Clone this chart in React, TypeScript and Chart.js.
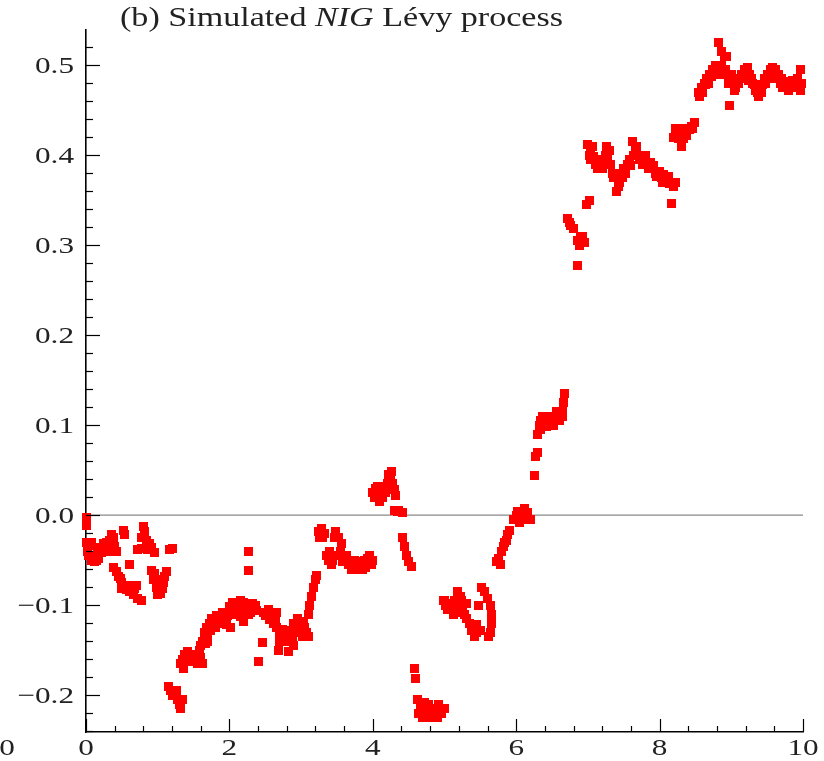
import { useEffect, useRef } from "react";
import { Chart, registerables } from "chart.js";

Chart.register(...registerables);

// ---- text ----
const titleBefore = "(b) Simulated ";
const titleItalic = "NIG";
const titleAfter = " Lévy process";
const strayLabel = "0";

// ---- axes ----
const xRange = [0, 10];
const yRange = [-0.241, 0.539];
const xMajorTicks = [0, 2, 4, 6, 8, 10];
const xTickLabels = ["0", "2", "4", "6", "8", "10"];
const yMajorTicks = [-0.2, -0.1, 0, 0.1, 0.2, 0.3, 0.4, 0.5];
const yTickLabels = ["\u22120.2", "\u22120.1", "0.0", "0.1", "0.2", "0.3", "0.4", "0.5"];
const xMinorStep = 0.4;
const yMinorStep = 0.02;

// ---- simulated path: [t, value] ----
const segment0to1: [number, number][] = [
  [0, -0.003], [0.01, -0.012], [0.0, -0.03], [0.04, -0.034], [0.08, -0.03],
  [0.04, -0.045], [0.08, -0.05], [0.12, -0.052], [0.18, -0.048], [0.22, -0.042],
  [0.16, -0.04], [0.2, -0.036], [0.24, -0.032], [0.28, -0.03], [0.3, -0.034],
  [0.33, -0.028], [0.36, -0.022], [0.38, -0.025], [0.4, -0.035], [0.42, -0.04],
  [0.52, -0.017], [0.54, -0.022], [0.6, -0.055],
  [0.38, -0.058], [0.42, -0.063], [0.45, -0.068], [0.48, -0.07], [0.5, -0.075],
  [0.53, -0.08], [0.56, -0.083], [0.6, -0.085], [0.64, -0.083], [0.68, -0.082],
  [0.7, -0.078], [0.72, -0.093], [0.77, -0.095],
  [0.8, -0.013], [0.82, -0.018], [0.78, -0.025], [0.84, -0.028], [0.72, -0.038],
  [0.78, -0.037], [0.88, -0.032], [0.92, -0.036], [0.96, -0.042],
  [0.92, -0.062], [0.96, -0.065], [1.0, -0.072], [1.02, -0.08], [1.04, -0.087],
  [1.06, -0.082], [1.08, -0.075], [1.1, -0.068], [1.12, -0.063], [0.98, -0.08],
  [1.0, -0.088], [1.16, -0.038], [1.2, -0.037],
  [0.02, -0.04], [0.1, -0.045], [0.14, -0.05], [0.26, -0.038], [0.32, -0.04],
  [0.5, -0.082], [0.58, -0.078], [0.66, -0.088], [0.86, -0.038], [0.94, -0.072],
];

const segment1to3: [number, number][] = [
  [1.15, -0.19], [1.18, -0.195], [1.22, -0.198], [1.25, -0.2], [1.28, -0.205],
  [1.3, -0.21], [1.32, -0.215], [1.35, -0.205],
  [1.32, -0.165], [1.35, -0.16], [1.38, -0.155], [1.42, -0.152], [1.45, -0.155],
  [1.48, -0.16], [1.52, -0.158], [1.55, -0.165], [1.36, -0.17], [1.6, -0.158],
  [1.62, -0.165],
  [1.58, -0.15], [1.62, -0.14], [1.65, -0.13], [1.68, -0.125], [1.7, -0.132],
  [1.72, -0.12], [1.75, -0.115], [1.66, -0.143],
  [1.78, -0.12], [1.82, -0.112], [1.86, -0.118], [1.9, -0.108], [1.94, -0.11],
  [1.98, -0.112], [2.0, -0.102], [2.04, -0.097], [2.08, -0.098], [2.12, -0.1],
  [2.16, -0.095], [2.2, -0.097], [2.24, -0.1], [2.28, -0.105], [2.32, -0.098],
  [2.36, -0.1], [2.38, -0.106], [1.96, -0.122], [2.02, -0.125], [2.1, -0.11],
  [2.15, -0.113], [2.2, -0.118],
  [2.26, -0.04], [2.26, -0.062], [2.4, -0.163], [2.46, -0.141],
  [2.48, -0.108], [2.54, -0.105], [2.6, -0.11], [2.66, -0.108], [2.56, -0.116],
  [2.62, -0.12], [2.66, -0.125], [2.7, -0.13], [2.74, -0.127], [2.7, -0.14],
  [2.68, -0.15], [2.83, -0.152],
  [2.8, -0.135], [2.85, -0.128], [2.9, -0.12], [2.95, -0.115], [3.0, -0.12],
  [3.05, -0.125], [3.08, -0.13], [3.1, -0.135], [2.88, -0.14], [2.92, -0.13],
  [3.02, -0.135],
  [1.8, -0.125], [1.84, -0.12], [1.88, -0.115], [1.92, -0.118], [1.96, -0.108],
  [2.06, -0.105], [2.14, -0.105], [2.18, -0.102], [2.22, -0.108], [2.26, -0.11],
  [2.3, -0.108], [2.34, -0.105], [1.7, -0.14], [1.74, -0.128], [1.6, -0.145],
  [2.5, -0.112], [2.58, -0.112], [2.64, -0.115], [2.72, -0.135], [2.76, -0.14],
  [2.78, -0.13], [2.86, -0.135], [2.94, -0.125], [2.98, -0.13], [3.04, -0.118],
  [3.06, -0.132], [2.9, -0.145], [1.2, -0.2], [1.26, -0.195], [1.4, -0.16],
  [1.46, -0.163], [1.5, -0.155], [1.56, -0.158],
];

const segment3to5: [number, number][] = [
  [3.1, -0.11], [3.12, -0.1], [3.14, -0.09], [3.17, -0.08], [3.2, -0.072], [3.22, -0.067],
  [3.24, -0.018], [3.28, -0.015], [3.32, -0.02], [3.26, -0.025], [3.48, -0.018],
  [3.52, -0.025], [3.56, -0.032],
  [3.36, -0.045], [3.4, -0.04], [3.44, -0.05], [3.5, -0.045], [3.55, -0.04],
  [3.58, -0.052], [3.64, -0.045], [3.68, -0.05], [3.72, -0.055], [3.76, -0.058],
  [3.8, -0.052], [3.84, -0.055], [3.88, -0.05], [3.92, -0.048], [3.96, -0.045],
  [4.0, -0.05], [3.7, -0.06], [3.9, -0.058],
  [4.0, 0.025], [4.04, 0.03], [4.08, 0.028], [4.12, 0.032], [4.16, 0.03],
  [4.1, 0.015], [4.14, 0.02], [4.22, 0.045], [4.25, 0.04], [4.28, 0.035],
  [4.3, 0.028], [4.32, 0.022], [4.26, 0.048],
  [4.3, 0.005], [4.36, 0.005], [4.42, 0.003],
  [4.42, -0.025], [4.44, -0.035], [4.47, -0.045], [4.5, -0.052], [4.54, -0.057],
  [4.58, -0.17], [4.6, -0.182],
  [4.62, -0.205], [4.64, -0.22], [4.68, -0.215], [4.72, -0.208], [4.76, -0.22],
  [4.8, -0.225], [4.84, -0.22], [4.88, -0.218], [4.92, -0.21], [4.96, -0.22],
  [5.0, -0.215], [4.7, -0.225],
  [3.3, -0.025], [3.46, -0.025], [3.38, -0.05], [3.42, -0.055], [3.6, -0.048],
  [3.66, -0.055], [3.74, -0.05], [3.78, -0.06], [3.82, -0.058], [3.86, -0.06],
  [3.94, -0.052], [3.98, -0.055], [4.02, 0.02], [4.06, 0.032], [4.18, 0.025],
  [4.2, 0.035], [4.24, 0.03], [4.34, 0.004], [4.66, -0.21], [4.74, -0.215],
  [4.78, -0.21], [4.82, -0.215], [4.86, -0.225], [4.9, -0.225], [4.94, -0.215],
];

const segment5to7: [number, number][] = [
  [4.98, -0.095], [5.02, -0.1], [5.06, -0.098], [5.1, -0.105], [5.14, -0.095],
  [5.18, -0.085], [5.22, -0.09], [5.25, -0.1], [5.3, -0.098], [5.12, -0.11],
  [5.2, -0.108],
  [5.3, -0.115], [5.35, -0.12], [5.4, -0.125], [5.45, -0.13], [5.5, -0.128],
  [5.42, -0.135], [5.47, -0.1],
  [5.52, -0.08], [5.56, -0.085], [5.6, -0.093], [5.64, -0.1], [5.66, -0.11],
  [5.66, -0.12], [5.64, -0.13], [5.62, -0.135],
  [5.72, -0.052], [5.76, -0.048], [5.8, -0.04], [5.82, -0.035], [5.86, -0.028],
  [5.88, -0.022], [5.9, -0.017], [5.78, -0.055],
  [5.96, -0.005], [6.0, 0.0], [6.04, -0.008], [6.08, 0.002], [6.12, 0.007],
  [6.16, 0.003], [6.2, -0.005],
  [6.25, 0.044], [6.27, 0.065], [6.3, 0.07],
  [6.3, 0.09], [6.34, 0.095], [6.38, 0.1], [6.42, 0.105], [6.46, 0.1],
  [6.5, 0.105], [6.54, 0.11], [6.58, 0.108], [6.62, 0.112], [6.34, 0.105],
  [6.42, 0.098], [6.66, 0.125], [6.68, 0.135], [6.65, 0.115],
  [6.85, 0.277], [6.86, 0.305], [6.9, 0.31], [6.95, 0.303], [6.72, 0.33],
  [6.76, 0.322], [6.8, 0.318], [6.98, 0.345], [7.02, 0.35],
  [5.0, -0.095], [5.04, -0.105], [5.08, -0.102], [5.16, -0.1], [5.24, -0.095],
  [5.28, -0.11], [5.38, -0.128], [5.44, -0.122], [6.32, 0.1], [6.36, 0.11],
  [6.4, 0.1], [6.44, 0.11], [6.48, 0.105], [6.52, 0.1], [6.56, 0.115],
  [6.6, 0.105], [6.64, 0.11], [6.02, 0.004], [6.06, -0.003], [6.1, 0.0],
  [6.14, -0.005], [5.84, -0.03], [6.74, 0.325], [6.88, 0.3], [6.92, 0.31],
];

const segment7to10: [number, number][] = [
  [7.0, 0.412], [7.04, 0.405], [7.08, 0.398], [7.12, 0.395], [7.16, 0.39],
  [7.2, 0.385], [7.04, 0.395], [7.26, 0.41], [7.3, 0.405], [7.28, 0.395],
  [7.34, 0.38], [7.4, 0.36], [7.42, 0.365], [7.46, 0.38], [7.5, 0.385],
  [7.55, 0.39], [7.6, 0.388], [7.62, 0.415], [7.66, 0.405],
  [7.7, 0.4], [7.74, 0.398], [7.78, 0.396], [7.82, 0.392], [7.86, 0.388],
  [7.9, 0.385], [7.94, 0.38], [7.98, 0.38], [8.02, 0.375], [8.06, 0.378],
  [8.1, 0.372], [8.14, 0.368], [8.18, 0.37], [8.22, 0.37], [8.16, 0.346],
  [8.2, 0.42], [8.24, 0.425], [8.28, 0.43], [8.32, 0.425], [8.36, 0.428],
  [8.4, 0.43], [8.44, 0.432], [8.48, 0.436], [8.3, 0.41], [8.34, 0.418],
  [8.54, 0.47], [8.58, 0.475], [8.62, 0.48], [8.66, 0.485], [8.7, 0.49],
  [8.56, 0.465], [8.74, 0.495], [8.8, 0.497], [8.86, 0.5], [8.92, 0.495],
  [8.82, 0.525], [8.86, 0.515], [8.9, 0.51], [8.94, 0.51], [8.98, 0.455],
  [8.98, 0.485], [9.02, 0.48], [9.06, 0.475], [9.1, 0.48], [9.14, 0.49],
  [9.18, 0.495], [9.22, 0.497], [9.26, 0.49], [9.3, 0.48], [9.34, 0.472],
  [9.38, 0.465], [9.42, 0.47], [9.46, 0.485], [9.5, 0.49], [9.54, 0.495],
  [9.58, 0.497], [9.62, 0.495], [9.66, 0.49], [9.7, 0.485], [9.74, 0.482],
  [9.78, 0.48], [9.82, 0.478], [9.86, 0.483], [9.9, 0.48], [9.94, 0.478],
  [9.98, 0.48], [9.97, 0.495],
  [7.02, 0.4], [7.06, 0.41], [7.1, 0.39], [7.14, 0.385], [7.18, 0.395],
  [7.22, 0.39], [7.24, 0.4], [7.32, 0.39], [7.36, 0.375], [7.44, 0.37],
  [7.48, 0.375], [7.52, 0.38], [7.58, 0.395], [7.64, 0.4], [7.68, 0.41],
  [7.72, 0.395], [7.76, 0.39], [7.8, 0.4], [7.84, 0.385], [7.88, 0.392],
  [7.92, 0.388], [7.96, 0.376], [8.0, 0.382], [8.04, 0.37], [8.08, 0.37],
  [8.12, 0.376], [8.2, 0.365], [8.22, 0.43], [8.26, 0.418], [8.38, 0.422],
  [8.42, 0.428], [8.46, 0.43], [8.6, 0.47], [8.64, 0.478], [8.68, 0.48],
  [8.72, 0.487], [8.76, 0.49], [8.78, 0.5], [8.84, 0.492], [8.88, 0.49],
  [8.96, 0.48], [9.0, 0.49], [9.04, 0.472], [9.08, 0.485], [9.12, 0.485],
  [9.16, 0.485], [9.2, 0.488], [9.24, 0.483], [9.28, 0.485], [9.32, 0.478],
  [9.36, 0.47], [9.4, 0.475], [9.44, 0.478], [9.48, 0.48], [9.52, 0.485],
  [9.56, 0.488], [9.6, 0.49], [9.64, 0.485], [9.68, 0.48], [9.72, 0.475],
  [9.76, 0.475], [9.8, 0.472], [9.84, 0.475], [9.88, 0.475], [9.92, 0.485],
  [9.96, 0.472],
];

const zeroLine: [number, number][] = [[0, 0], [10, 0]];

const SERIF = '"Liberation Serif", "Times New Roman", serif';
const TEXT_COLOR = "#222";
const H_STRETCH = 1.3;

function makeMarker(): HTMLCanvasElement {
  const c = document.createElement("canvas");
  c.width = 9;
  c.height = 9;
  const g = c.getContext("2d")!;
  g.fillStyle = "#ff0000";
  g.fillRect(0, 0, 9, 9);
  return c;
}

const axisDecor = {
  id: "axisDecor",
  afterDraw(chart: any) {
    const ctx = chart.ctx as CanvasRenderingContext2D;
    const xs = chart.scales.x;
    const ys = chart.scales.y;
    const area = chart.chartArea;
    ctx.save();
    ctx.strokeStyle = "#000";
    ctx.lineWidth = 1.2;
    for (let v = xRange[0]; v <= xRange[1] + 1e-9; v += xMinorStep) {
      const px = Math.round(xs.getPixelForValue(v)) + 0.5;
      const isMajor = xMajorTicks.some((m) => Math.abs(m - v) < 1e-6);
      const len = isMajor ? 13 : 6;
      ctx.beginPath();
      ctx.moveTo(px, area.bottom);
      ctx.lineTo(px, area.bottom - len);
      ctx.stroke();
    }
    for (let v = -0.24; v <= 0.52 + 1e-9; v += yMinorStep) {
      const py = Math.round(ys.getPixelForValue(v)) + 0.5;
      const isMajor = yMajorTicks.some((m) => Math.abs(m - v) < 1e-6);
      const len = isMajor ? 14 : 7;
      ctx.beginPath();
      ctx.moveTo(area.left, py);
      ctx.lineTo(area.left + len, py);
      ctx.stroke();
    }
    ctx.fillStyle = TEXT_COLOR;
    ctx.font = `24px ${SERIF}`;
    ctx.textBaseline = "alphabetic";
    yMajorTicks.forEach((v, i) => {
      const py = ys.getPixelForValue(v);
      ctx.save();
      ctx.translate(area.left - 12, py + 8);
      ctx.scale(H_STRETCH, 1);
      ctx.textAlign = "right";
      ctx.fillText(yTickLabels[i], 0, 0);
      ctx.restore();
    });
    xMajorTicks.forEach((v, i) => {
      const px = xs.getPixelForValue(v);
      ctx.save();
      ctx.translate(px, area.bottom + 23);
      ctx.scale(H_STRETCH, 1);
      ctx.textAlign = "center";
      ctx.fillText(xTickLabels[i], 0, 0);
      ctx.restore();
    });
    ctx.save();
    ctx.translate(7, area.bottom + 23);
    ctx.scale(H_STRETCH, 1);
    ctx.textAlign = "center";
    ctx.fillText(strayLabel, 0, 0);
    ctx.restore();

    const normalFont = `28px ${SERIF}`;
    const italicFont = `italic 28px ${SERIF}`;
    ctx.font = normalFont;
    const w1 = ctx.measureText(titleBefore).width;
    const w3 = ctx.measureText(titleAfter).width;
    ctx.font = italicFont;
    const w2 = ctx.measureText(titleItalic).width;
    const total = w1 + w2 + w3;
    const sx = 443 / total;
    ctx.save();
    ctx.translate(120, 26);
    ctx.scale(sx, 1);
    ctx.textAlign = "left";
    ctx.font = normalFont;
    ctx.fillText(titleBefore, 0, 0);
    ctx.font = italicFont;
    ctx.fillText(titleItalic, w1, 0);
    ctx.font = normalFont;
    ctx.fillText(titleAfter, w1 + w2, 0);
    ctx.restore();
    ctx.restore();
  },
};

export default function App() {
  const canvasRef = useRef<HTMLCanvasElement | null>(null);

  useEffect(() => {
    const canvas = canvasRef.current;
    if (!canvas) return;
    const toXY = (arr: [number, number][]) => arr.map(([x, y]) => ({ x, y }));
    const pathPoints = [
      ...toXY(segment0to1),
      ...toXY(segment1to3),
      ...toXY(segment3to5),
      ...toXY(segment5to7),
      ...toXY(segment7to10),
    ];
    const marker = makeMarker();
    const chart = new Chart(canvas, {
      type: "scatter",
      data: {
        datasets: [
          {
            type: "line",
            label: "zero",
            data: toXY(zeroLine),
            borderColor: "#8a8a8a",
            borderWidth: 1.2,
            pointRadius: 0,
            order: 2,
          } as any,
          {
            label: "NIG",
            data: pathPoints,
            pointStyle: marker as any,
            pointRadius: 5,
            pointHoverRadius: 5,
            backgroundColor: "#ff0000",
            borderColor: "#ff0000",
            borderWidth: 0,
            clip: false as any,
            order: 1,
          },
        ],
      },
      options: {
        responsive: false,
        animation: false,
        events: [],
        layout: { padding: { left: 86, right: 21, top: 30, bottom: 29 } },
        plugins: {
          legend: { display: false },
          tooltip: { enabled: false },
          title: { display: false },
        },
        scales: {
          x: {
            type: "linear",
            min: xRange[0],
            max: xRange[1],
            grid: { display: false, drawTicks: false },
            border: { display: true, color: "#000", width: 1.6 },
            ticks: { display: false },
            afterFit: (s: any) => {
              s.height = 0;
            },
          },
          y: {
            type: "linear",
            min: yRange[0],
            max: yRange[1],
            grid: { display: false, drawTicks: false },
            border: { display: true, color: "#000", width: 1.6 },
            ticks: { display: false },
            afterFit: (s: any) => {
              s.width = 0;
            },
          },
        },
      },
      plugins: [axisDecor],
    });
    return () => chart.destroy();
  }, []);

  return (
    <div style={{ position: "absolute", left: 0, top: 0, width: 824, height: 761, background: "#fff" }}>
      <canvas ref={canvasRef} width={824} height={761} style={{ display: "block" }} />
    </div>
  );
}
